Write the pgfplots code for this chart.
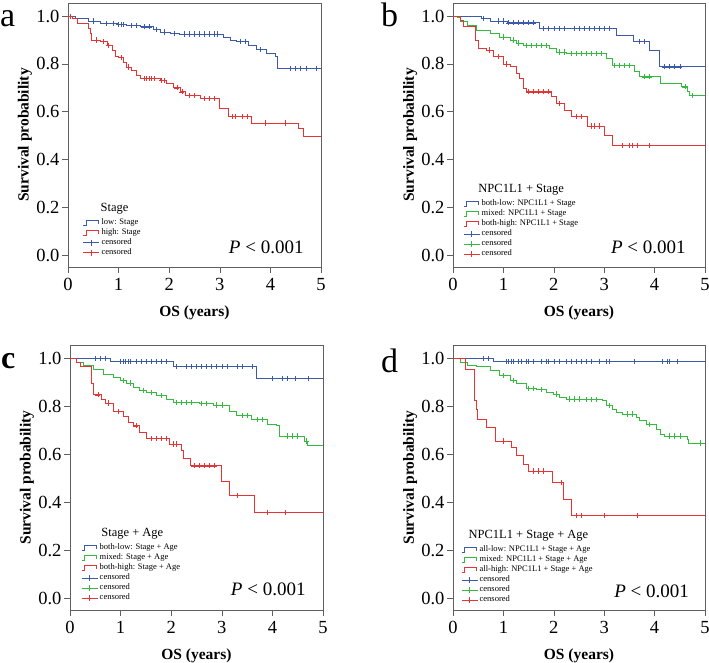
\documentclass[border=0pt]{standalone}
\usepackage{fontspec}
\setmainfont{Liberation Serif}
\usepackage{pgfplots}
\usepackage{pgfplotstable}
\pgfplotsset{compat=1.18}

\definecolor{kmblue}{RGB}{60,90,170}
\definecolor{kmred}{RGB}{230,52,52}
\definecolor{kmgreen}{RGB}{52,186,62}
\definecolor{boxgray}{RGB}{95,95,95}

% columns: time (years), survival, censored flag
\pgfplotstableread{
t s c
0 1.0 0
0.15 0.99 0
0.4 0.98 0
0.5 0.98 1
0.64 0.969 0
0.75 0.969 1
0.9 0.969 1
0.97 0.965 0
1.0 0.965 1
1.05 0.965 1
1.1 0.965 1
1.16 0.96 0
1.25 0.96 1
1.35 0.96 1
1.43 0.955 0
1.5 0.955 1
1.6 0.955 1
1.69 0.944 0
1.75 0.944 1
1.82 0.934 0
1.9 0.934 1
2.02 0.927 0
2.1 0.927 1
2.2 0.925 0
2.3 0.925 1
2.4 0.925 1
2.5 0.925 1
2.6 0.925 1
2.7 0.925 1
2.8 0.925 1
2.9 0.925 1
2.95 0.925 1
3.07 0.913 0
3.2 0.90 0
3.33 0.895 0
3.4 0.895 1
3.5 0.895 1
3.57 0.878 0
3.73 0.86 0
3.8 0.86 1
3.93 0.846 0
4.09 0.83 0
4.14 0.78 0
4.4 0.78 1
4.5 0.78 1
4.6 0.78 1
4.7 0.78 1
4.9 0.78 1
5 0.78 0
}\Alow

\pgfplotstableread{
t s c
0 1.0 0
0.04 1.0 1
0.08 0.99 0
0.18 0.97 0
0.41 0.948 0
0.44 0.927 0
0.47 0.90 0
0.55 0.90 1
0.64 0.893 0
0.7 0.893 1
0.77 0.878 0
0.8 0.878 1
0.87 0.857 0
0.93 0.83 0
1.0 0.826 0
1.05 0.826 1
1.1 0.808 0
1.16 0.787 0
1.2 0.787 1
1.26 0.773 0
1.36 0.752 0
1.43 0.738 0
1.5 0.738 1
1.55 0.738 1
1.6 0.738 1
1.65 0.738 1
1.7 0.738 1
1.82 0.731 0
1.85 0.731 1
1.9 0.731 1
1.95 0.717 0
2.09 0.70 0
2.15 0.70 1
2.22 0.683 0
2.25 0.683 1
2.32 0.667 0
2.4 0.667 1
2.5 0.667 1
2.61 0.655 0
2.7 0.655 1
2.8 0.655 1
2.9 0.655 1
3.0 0.613 0
3.17 0.579 0
3.25 0.579 1
3.3 0.579 1
3.45 0.579 1
3.55 0.579 1
3.63 0.553 0
3.9 0.553 1
4.3 0.553 1
4.55 0.53 0
4.66 0.495 0
5 0.495 0
}\Ahigh

\pgfplotstableread{
t s c
0 1.0 0
0.57 0.99 0
0.6 0.99 1
0.74 0.98 0
0.9 0.98 1
1.0 0.98 1
1.07 0.972 0
1.1 0.972 1
1.2 0.972 1
1.3 0.972 1
1.4 0.972 1
1.5 0.972 1
1.6 0.972 1
1.72 0.948 0
1.8 0.948 1
1.9 0.948 1
2.0 0.948 1
2.1 0.948 1
2.2 0.948 1
2.4 0.948 1
2.5 0.948 1
2.6 0.948 1
2.7 0.948 1
2.8 0.948 1
2.9 0.948 1
3.0 0.948 1
3.1 0.948 1
3.24 0.92 0
3.57 0.893 0
3.7 0.893 1
3.8 0.893 1
3.9 0.857 0
4.09 0.788 0
4.2 0.788 1
4.3 0.788 1
4.4 0.788 1
4.5 0.788 1
5 0.788 0
}\Blow

\pgfplotstableread{
t s c
0 1.0 0
0.08 0.994 0
0.14 0.976 0
0.28 0.962 0
0.47 0.941 0
0.74 0.927 0
0.93 0.913 0
1.0 0.913 1
1.13 0.90 0
1.2 0.90 1
1.26 0.888 0
1.3 0.888 1
1.39 0.878 0
1.45 0.878 1
1.55 0.878 1
1.65 0.878 1
1.75 0.878 1
1.85 0.878 1
1.92 0.865 0
2.05 0.85 0
2.1 0.85 1
2.2 0.85 1
2.25 0.844 0
2.35 0.844 1
2.45 0.844 1
2.55 0.844 1
2.65 0.844 1
2.75 0.844 1
2.85 0.844 1
2.95 0.844 1
3.04 0.823 0
3.17 0.795 0
3.2 0.795 1
3.3 0.795 1
3.4 0.795 1
3.5 0.795 1
3.6 0.767 0
3.7 0.746 0
3.8 0.746 1
3.9 0.746 1
4.12 0.718 0
4.53 0.704 0
4.6 0.704 1
4.65 0.683 0
4.7 0.669 0
4.75 0.669 1
5 0.669 0
}\Bmix

\pgfplotstableread{
t s c
0 1.0 0
0.14 0.983 0
0.2 0.955 0
0.44 0.90 0
0.51 0.865 0
0.67 0.858 0
0.72 0.858 1
0.8 0.83 0
0.9 0.83 1
1.0 0.80 0
1.05 0.80 1
1.13 0.788 0
1.26 0.76 0
1.32 0.739 0
1.39 0.697 0
1.46 0.683 0
1.5 0.683 1
1.6 0.683 1
1.7 0.683 1
1.8 0.683 1
1.9 0.683 1
1.95 0.663 0
2.05 0.635 0
2.1 0.635 1
2.22 0.607 0
2.35 0.579 0
2.45 0.579 1
2.55 0.579 1
2.66 0.54 0
2.75 0.54 1
2.8 0.54 1
2.9 0.54 1
3.0 0.502 0
3.17 0.46 0
3.35 0.46 1
3.5 0.46 1
3.55 0.46 1
3.65 0.46 1
3.9 0.46 1
5 0.46 0
}\Bhigh

\pgfplotstableread{
t s c
0 1.0 0
0.5 1.0 1
0.6 1.0 1
0.7 1.0 1
0.79 0.986 0
1.0 0.986 1
1.05 0.986 1
1.1 0.986 1
1.15 0.986 1
1.2 0.986 1
1.3 0.986 1
1.4 0.986 1
1.5 0.986 1
1.6 0.986 1
1.7 0.986 1
1.8 0.986 1
1.9 0.986 1
2.04 0.966 0
2.1 0.966 1
2.3 0.966 1
2.4 0.966 1
2.5 0.966 1
2.6 0.966 1
2.7 0.966 1
2.8 0.966 1
2.9 0.966 1
3.0 0.966 1
3.1 0.966 1
3.3 0.966 1
3.4 0.966 1
3.6 0.966 1
3.68 0.916 0
4.0 0.916 1
4.2 0.916 1
4.3 0.916 1
4.45 0.916 1
4.7 0.916 1
5 0.916 0
}\Clow

\pgfplotstableread{
t s c
0 1.0 0
0.13 0.983 0
0.26 0.97 0
0.46 0.955 0
0.66 0.934 0
0.86 0.92 0
0.99 0.907 0
1.05 0.907 1
1.12 0.897 0
1.2 0.897 1
1.25 0.879 0
1.38 0.865 0
1.45 0.865 1
1.51 0.858 0
1.6 0.858 1
1.71 0.844 0
1.8 0.844 1
1.91 0.83 0
2.04 0.816 0
2.1 0.816 1
2.2 0.816 1
2.3 0.816 1
2.4 0.816 1
2.55 0.81 0
2.6 0.81 1
2.7 0.81 1
2.83 0.805 0
2.9 0.805 1
3.0 0.805 1
3.16 0.78 0
3.29 0.76 0
3.4 0.76 1
3.5 0.76 1
3.59 0.746 0
3.7 0.746 1
3.8 0.746 1
3.91 0.725 0
4.08 0.718 0
4.14 0.676 0
4.3 0.676 1
4.4 0.676 1
4.5 0.676 1
4.64 0.655 0
4.67 0.655 1
4.7 0.637 0
5 0.637 0
}\Cmix

\pgfplotstableread{
t s c
0 1.0 0
0.13 0.983 0
0.2 0.966 0
0.42 0.893 0
0.47 0.847 0
0.55 0.847 1
0.63 0.83 0
0.69 0.813 0
0.75 0.813 1
0.86 0.777 0
0.95 0.777 1
1.05 0.756 0
1.15 0.732 0
1.25 0.718 0
1.3 0.718 1
1.38 0.69 0
1.51 0.665 0
1.6 0.665 1
1.7 0.665 1
1.8 0.665 1
1.9 0.665 1
1.97 0.642 0
2.05 0.642 1
2.1 0.642 1
2.2 0.614 0
2.24 0.582 0
2.37 0.551 0
2.45 0.551 1
2.55 0.551 1
2.65 0.551 1
2.75 0.551 1
2.85 0.551 1
3.0 0.488 0
3.16 0.428 0
3.3 0.428 1
3.65 0.356 0
3.9 0.356 1
4.25 0.356 1
5 0.356 0
}\Chigh

\pgfplotstableread{
t s c
0 1.0 0
0.6 1.0 1
0.7 1.0 1
0.8 0.986 0
1.05 0.986 1
1.1 0.986 1
1.15 0.986 1
1.2 0.986 1
1.3 0.986 1
1.35 0.986 1
1.45 0.986 1
1.5 0.986 1
1.6 0.986 1
1.75 0.986 1
1.85 0.986 1
1.9 0.986 1
2.0 0.986 1
2.1 0.986 1
2.25 0.986 1
2.35 0.986 1
2.45 0.986 1
2.55 0.986 1
2.65 0.986 1
2.75 0.986 1
2.9 0.986 1
3.05 0.986 1
3.1 0.986 1
3.6 0.986 1
4.15 0.986 1
4.25 0.986 1
4.3 0.986 1
4.45 0.986 1
5 0.986 0
}\Dlow

\pgfplotstableread{
t s c
0 1.0 0
0.14 0.983 0
0.28 0.972 0
0.47 0.966 0
0.74 0.948 0
0.93 0.927 0
1.0 0.927 1
1.13 0.907 0
1.2 0.907 1
1.26 0.893 0
1.46 0.874 0
1.5 0.874 1
1.6 0.874 1
1.66 0.869 0
1.75 0.869 1
1.86 0.858 0
1.99 0.851 0
2.05 0.851 1
2.12 0.837 0
2.25 0.83 0
2.3 0.83 1
2.4 0.83 1
2.5 0.83 1
2.58 0.827 0
2.65 0.827 1
2.75 0.827 1
2.85 0.827 1
2.97 0.823 0
3.04 0.802 0
3.1 0.802 1
3.17 0.788 0
3.24 0.774 0
3.37 0.767 0
3.45 0.767 1
3.55 0.767 1
3.63 0.753 0
3.7 0.739 0
3.83 0.725 0
3.9 0.725 1
4.03 0.704 0
4.12 0.683 0
4.19 0.676 0
4.3 0.676 1
4.4 0.676 1
4.5 0.676 1
4.65 0.662 0
4.68 0.646 0
4.9 0.646 1
5 0.646 0
}\Dmix

\pgfplotstableread{
t s c
0 1.0 0
0.24 0.953 0
0.42 0.823 0
0.46 0.788 0
0.49 0.743 0
0.67 0.711 0
0.84 0.655 0
1.0 0.655 1
1.16 0.628 0
1.26 0.596 0
1.39 0.558 0
1.49 0.53 0
1.6 0.53 1
1.7 0.53 1
1.8 0.53 1
1.97 0.481 0
2.15 0.481 1
2.2 0.411 0
2.35 0.344 0
2.45 0.344 1
2.55 0.344 1
3.0 0.344 1
3.65 0.344 1
5 0.344 0
}\Dhigh

\pgfplotsset{
  km/.style={
    scale only axis, width=253pt, height=264pt,
    xmin=0, xmax=5, ymin=-0.05, ymax=1.055,
    xtick={0,1,2,3,4,5}, ytick={0,0.2,0.4,0.6,0.8,1.0},
    yticklabel style={/pgf/number format/fixed, /pgf/number format/fixed zerofill,
      /pgf/number format/precision=1},
    /pgf/number format/assume math mode=true,
    tick pos=left, tick align=outside, major tick length=6pt,
    tick style={boxgray, line width=0.6pt},
    axis line style={boxgray, line width=0.8pt},
    ticklabel style={font=\fontsize{18.5}{18.5}\selectfont},
    xticklabel style={yshift=-2pt},
    yticklabel style={xshift=1pt},
    xlabel={OS (years)}, ylabel={Survival probability},
    label style={font=\bfseries\fontsize{15.5}{16}\selectfont},
    xlabel style={at={(axis description cs:0.5,-0.172)}, anchor=center},
    ylabel style={at={(axis description cs:-0.17,0.5)}, anchor=center},
    legend style={draw=none, fill=none, anchor=south west,
      font=\fontsize{8.5}{9}\selectfont, row sep=0.6pt, column sep=1pt,
      nodes={inner sep=0.8pt, text height=6pt, text depth=1.8pt}},
    legend cell align=left,
  },
  kmline/.style={const plot, line width=0.8pt, forget plot},
  kmcens/.style={only marks, mark=+, mark size=2.6pt, mark options={line width=0.55pt},
    forget plot, unbounded coords=discard,
    restrict expr to domain={\thisrow{c}}{0.5:1.5}},
  stepleg/.style={legend image code/.code={%
    \draw[##1, line width=0.8pt] (0pt,-2.5pt) -- (3pt,-2.5pt) -- (3pt,2.5pt) -- (15pt,2.5pt) -- (15pt,-1pt);}},
  cenleg/.style={legend image code/.code={%
    \draw[##1, line width=0.5pt] (0pt,0pt) -- (16pt,0pt);
    \draw[##1, line width=0.5pt] (8pt,-3pt) -- (8pt,3pt);}},
}

\begin{document}
\begin{tikzpicture}
\useasboundingbox (0pt,0pt) rectangle (709pt,-662pt);

% panel a
\begin{axis}[km, at={(68pt,-267pt)}, anchor=south west,
  legend style={at={(0.047,0.028)}}]
\addplot[kmline, kmblue] table[x=t, y=s] {\Alow};
\addplot[kmline, kmred] table[x=t, y=s] {\Ahigh};
\addplot[kmcens, kmblue] table[x=t, y=s] {\Alow};
\addplot[kmcens, kmred] table[x=t, y=s] {\Ahigh};
\addlegendimage{stepleg, kmblue}\addlegendentry{low: Stage}
\addlegendimage{stepleg, kmred}\addlegendentry{high: Stage}
\addlegendimage{cenleg, kmblue}\addlegendentry{censored}
\addlegendimage{cenleg, kmred}\addlegendentry{censored}
\node[anchor=west, font=\fontsize{12.5}{13}\selectfont] at (rel axis cs:0.115,0.22) {Stage};
\node[anchor=east, font=\fontsize{19}{19}\selectfont] at (rel axis cs:0.945,0.076) {\textit{P} < 0.001};
\end{axis}

% panel b
\begin{axis}[km, at={(453pt,-267pt)}, anchor=south west, width=252pt,
  legend style={at={(0.028,0.024)}}]
\addplot[kmline, kmblue] table[x=t, y=s] {\Blow};
\addplot[kmline, kmgreen] table[x=t, y=s] {\Bmix};
\addplot[kmline, kmred] table[x=t, y=s] {\Bhigh};
\addplot[kmcens, kmblue] table[x=t, y=s] {\Blow};
\addplot[kmcens, kmgreen] table[x=t, y=s] {\Bmix};
\addplot[kmcens, kmred] table[x=t, y=s] {\Bhigh};
\addlegendimage{stepleg, kmblue}\addlegendentry{both-low: NPC1L1 + Stage}
\addlegendimage{stepleg, kmgreen}\addlegendentry{mixed: NPC1L1 + Stage}
\addlegendimage{stepleg, kmred}\addlegendentry{both-high: NPC1L1 + Stage}
\addlegendimage{cenleg, kmblue}\addlegendentry{censored}
\addlegendimage{cenleg, kmgreen}\addlegendentry{censored}
\addlegendimage{cenleg, kmred}\addlegendentry{censored}
\node[anchor=west, font=\fontsize{12.5}{13}\selectfont] at (rel axis cs:0.087,0.292) {NPC1L1 + Stage};
\node[anchor=east, font=\fontsize{19}{19}\selectfont] at (rel axis cs:0.937,0.076) {\textit{P} < 0.001};
\end{axis}

% panel c
\begin{axis}[km, at={(70pt,-610pt)}, anchor=south west, height=265pt,
  legend style={at={(0.032,0.02)}}]
\addplot[kmline, kmblue] table[x=t, y=s] {\Clow};
\addplot[kmline, kmgreen] table[x=t, y=s] {\Cmix};
\addplot[kmline, kmred] table[x=t, y=s] {\Chigh};
\addplot[kmcens, kmblue] table[x=t, y=s] {\Clow};
\addplot[kmcens, kmgreen] table[x=t, y=s] {\Cmix};
\addplot[kmcens, kmred] table[x=t, y=s] {\Chigh};
\addlegendimage{stepleg, kmblue}\addlegendentry{both-low: Stage + Age}
\addlegendimage{stepleg, kmgreen}\addlegendentry{mixed: Stage + Age}
\addlegendimage{stepleg, kmred}\addlegendentry{both-high: Stage + Age}
\addlegendimage{cenleg, kmblue}\addlegendentry{censored}
\addlegendimage{cenleg, kmgreen}\addlegendentry{censored}
\addlegendimage{cenleg, kmred}\addlegendentry{censored}
\node[anchor=west, font=\fontsize{12.5}{13}\selectfont] at (rel axis cs:0.11,0.287) {Stage + Age};
\node[anchor=east, font=\fontsize{19}{19}\selectfont] at (rel axis cs:0.945,0.079) {\textit{P} < 0.001};
\end{axis}

% panel d
\begin{axis}[km, at={(453pt,-610pt)}, anchor=south west, width=252pt, height=265pt,
  legend style={at={(0.02,0.0125)}}]
\addplot[kmline, kmblue] table[x=t, y=s] {\Dlow};
\addplot[kmline, kmgreen] table[x=t, y=s] {\Dmix};
\addplot[kmline, kmred] table[x=t, y=s] {\Dhigh};
\addplot[kmcens, kmblue] table[x=t, y=s] {\Dlow};
\addplot[kmcens, kmgreen] table[x=t, y=s] {\Dmix};
\addplot[kmcens, kmred] table[x=t, y=s] {\Dhigh};
\addlegendimage{stepleg, kmblue}\addlegendentry{all-low: NPC1L1 + Stage + Age}
\addlegendimage{stepleg, kmgreen}\addlegendentry{mixed: NPC1L1 + Stage + Age}
\addlegendimage{stepleg, kmred}\addlegendentry{all-high: NPC1L1 + Stage + Age}
\addlegendimage{cenleg, kmblue}\addlegendentry{censored}
\addlegendimage{cenleg, kmgreen}\addlegendentry{censored}
\addlegendimage{cenleg, kmred}\addlegendentry{censored}
\node[anchor=west, font=\fontsize{12.5}{13}\selectfont] at (rel axis cs:0.048,0.279) {NPC1L1 + Stage + Age};
\node[anchor=east, font=\fontsize{19}{19}\selectfont] at (rel axis cs:0.95,0.07) {\textit{P} < 0.001};
\end{axis}

% panel letters
\node[anchor=base west, inner sep=0pt, font=\fontsize{34}{34}\selectfont] at (0pt,-26pt) {a};
\node[anchor=base west, inner sep=0pt, font=\fontsize{34}{34}\selectfont] at (381pt,-26pt) {b};
\node[anchor=base west, inner sep=0pt, font=\bfseries\fontsize{32}{32}\selectfont] at (1pt,-368pt) {c};
\node[anchor=base west, inner sep=0pt, font=\fontsize{34}{34}\selectfont] at (381pt,-372pt) {d};
\end{tikzpicture}
\end{document}
